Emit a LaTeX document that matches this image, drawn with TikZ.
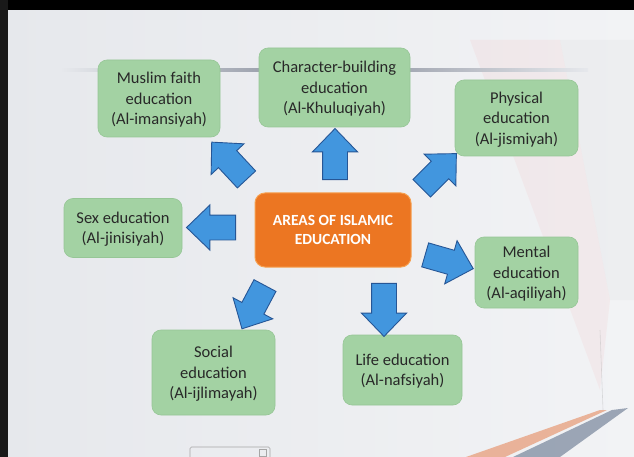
\documentclass[tikz,border=0pt]{standalone}
\usepackage{fontspec}
\setmainfont{Carlito}
\usetikzlibrary{shapes.arrows}
\definecolor{bgc}{RGB}{230,232,236}
\definecolor{bgl}{RGB}{242,243,245}
\definecolor{boxg}{RGB}{163,210,163}
\definecolor{boxgd}{RGB}{150,198,150}
\definecolor{orangec}{RGB}{236,118,34}
\definecolor{orangeb}{RGB}{246,160,80}
\definecolor{bluec}{RGB}{66,150,222}
\definecolor{blued}{RGB}{38,86,150}
\definecolor{txt}{RGB}{40,40,40}
\definecolor{lineg}{RGB}{135,141,155}
\definecolor{swo}{RGB}{232,168,138}
\definecolor{swg}{RGB}{140,152,170}
\tikzset{
  gbox/.style={draw=boxgd, fill=boxg, rounded corners=9pt, line width=0.6pt,
    align=center, text=txt, inner sep=0pt, text depth=0pt,
    font=\fontsize{16.5}{20.5}\selectfont},
  obox/.style={draw=orangeb, fill=orangec, rounded corners=10pt, line width=1pt,
    align=center, text=white, inner sep=0pt,
    font=\fontsize{15.5}{19.5}\selectfont\bfseries},
  barrow/.style={shape=single arrow, draw=blued, fill=bluec, line width=0.9pt,
    inner sep=0pt, minimum width=44pt, single arrow head extend=10pt,
    single arrow tip angle=88}
}
\newcommand{\shaft}{\rule{0pt}{24pt}}
\begin{document}
\begin{tikzpicture}[x=1pt,y=-1pt]
\useasboundingbox (0,0) rectangle (634,457);
% background
\shade[left color=bgc, right color=bgl] (0,0) rectangle (634,457);
% faint pink wedge
\fill[red!60!white, opacity=0.06] (470,40) -- (560,40) -- (610,300) -- (600,390) -- cycle;
\fill[gray, opacity=0.04] (560,40) -- (634,40) -- (634,300) -- (610,300) -- cycle;
% bottom-right swoosh
\fill[swo, opacity=0.85] (466,457) -- (600,410) -- (607,410) -- (505,457) -- cycle;
\fill[swg, opacity=0.85] (513,457) -- (612,410) -- (628,408) -- (560,457) -- cycle;
\draw[gray!60, line width=0.6pt, opacity=0.4] (600,330) -- (603,410);
% black frame of the photo
\fill[black] (0,0) rectangle (634,10);
\fill[black!90] (0,0) rectangle (8,457);
% horizontal line
\shade[left color=bgc, right color=bgc, middle color=lineg] (62,69) rectangle (588,72);
% small ui box
\draw[gray!70, rounded corners=1.5pt, line width=0.6pt] (190,447) rectangle (270,460);
\draw[gray!70, line width=0.5pt] (259,449) rectangle (266,456);
% boxes
\node[gbox, minimum width=122pt, minimum height=77pt] (faith) at (159,98.5)
  {Muslim faith\\education\\(Al-imansiyah)};
\node[gbox, minimum width=151pt, minimum height=79pt] (character) at (334.5,87.5)
  {Character-building\\education\\(Al-Khuluqiyah)};
\node[gbox, minimum width=123pt, minimum height=76pt] (physical) at (516.5,118)
  {Physical\\education\\(Al-jismiyah)};
\node[gbox, minimum width=118pt, minimum height=59pt] (sex) at (123,228)
  {Sex education\\(Al-jinisiyah)};
\node[obox, minimum width=156pt, minimum height=74pt] (center) at (333,230)
  {AREAS OF ISLAMIC\\EDUCATION};
\node[gbox, minimum width=103pt, minimum height=71pt] (mental) at (526.5,272.5)
  {Mental\\education\\(Al-aqiliyah)};
\node[gbox, minimum width=123pt, minimum height=85pt] (social) at (213.5,372.5)
  {Social\\education\\(Al-ijlimayah)};
\node[gbox, minimum width=119pt, minimum height=70pt] (life) at (402.5,370)
  {Life education\\(Al-nafsiyah)};
% block arrows
\node[barrow, minimum height=51pt, rotate=133] (aUL) at (233.5,165.5) {\shaft};
\node[barrow, minimum height=51pt, rotate=90] (aU) at (335,160.5) {\shaft};
\node[barrow, minimum height=49pt, rotate=45] (aUR) at (434.5,175.5) {\shaft};
\node[barrow, minimum height=49pt, rotate=180] (aL) at (217.5,227.5) {\shaft};
\node[barrow, minimum height=50pt, rotate=-16] (aR) at (443,260) {\shaft};
\node[barrow, minimum height=49pt, rotate=-118] (aDL) at (256.5,301.5) {\shaft};
\node[barrow, minimum height=53pt, rotate=-90] (aD) at (384,303.5) {\shaft};
\end{tikzpicture}
\end{document}
